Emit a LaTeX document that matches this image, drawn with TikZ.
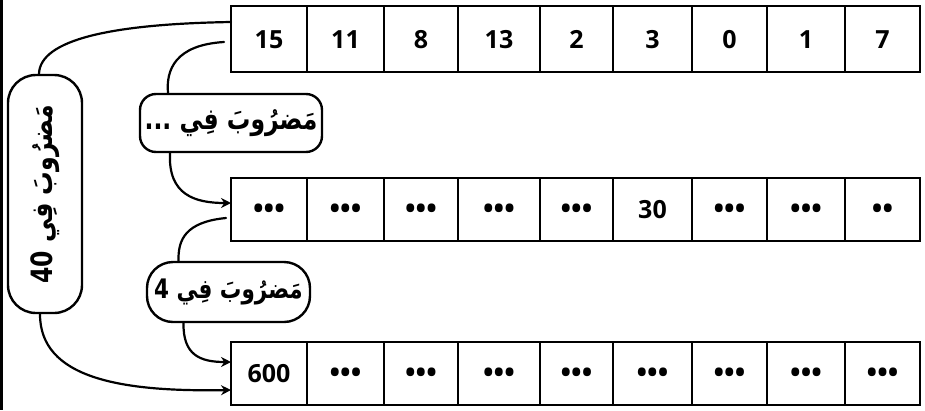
\documentclass[tikz,border=0pt]{standalone}
\usepackage{fontspec}
\usepackage{graphicx}
\usetikzlibrary{arrows.meta,calc}
\TeXXeTstate=1
\newfontfamily\arabicfont[Script=Arabic]{DejaVu Sans}
\newfontfamily\numfont{Open Sans}
\newcommand{\mydots}{{\fontsize{28}{28}\selectfont •••}}
\newcommand{\mytwodots}{{\fontsize{28}{28}\selectfont ••}}
\newcommand{\tallar}[1]{\scalebox{1}[1.25]{\beginR #1\endR}}
\begin{document}
\begin{tikzpicture}[x=1pt,y=-1pt,
  cell/.style={draw, line width=2.4pt, inner sep=0pt, outer sep=0pt, text height=18pt, text depth=0pt, font=\numfont\bfseries\fontsize{25}{28}\selectfont},
  pill/.style={draw, line width=2.4pt, rounded corners=20pt, inner sep=0pt, font=\arabicfont\bfseries\fontsize{23.5}{26}\selectfont},
  conn/.style={line width=2.2pt, line cap=round},
  tip/.style={-{Stealth[length=10pt,width=10pt]}}]
\fill[white] (0,0) rectangle (925,410);
\useasboundingbox (0,0) rectangle (925,410);
\draw[line width=2.5pt] (1.5,0) -- (1.5,410);
% rows
\foreach \a/\b/\t [count=\i] in {231/307/15,307/384/11,384/458/8,458/540/13,540/613/2,613/692/3,692/767/0,767/845/1,845/920/7}{
  \pgfmathsetmacro{\w}{\b-\a}
  \node[cell, minimum width=\w pt, minimum height=66pt] (r1c\i) at ({(\a+\b)/2},39) {\t};
}
\foreach \a/\b/\t [count=\i] in {231/307/\mydots,307/384/\mydots,384/458/\mydots,458/540/\mydots,540/613/\mydots,613/692/30,692/767/\mydots,767/845/\mydots,845/920/\mytwodots}{
  \pgfmathsetmacro{\w}{\b-\a}
  \node[cell, minimum width=\w pt, minimum height=63pt] (r2c\i) at ({(\a+\b)/2},209.5) {\t};
}
\foreach \a/\b/\t [count=\i] in {231/307/600,307/384/\mydots,384/458/\mydots,458/540/\mydots,540/613/\mydots,613/692/\mydots,692/767/\mydots,767/845/\mydots,845/920/\mydots}{
  \pgfmathsetmacro{\w}{\b-\a}
  \node[cell, minimum width=\w pt, minimum height=63pt] (r3c\i) at ({(\a+\b)/2},373.5) {\t};
}
% pills
\node[pill, rounded corners=16pt, minimum width=182pt, minimum height=58pt] (p1) at (231,123) {\tallar{مَضرُوبَ فِي ...}};
\node[pill, rounded corners=26pt, minimum width=163pt, minimum height=60pt, font=\arabicfont\bfseries\fontsize{21.5}{24}\selectfont] (p2) at (228.5,292) {\tallar{مَضرُوبَ فِي 4}};
\node[pill, rounded corners=28pt, minimum width=74pt, minimum height=238pt] (L) at (45,194) {\rotatebox{90}{\tallar{مَضرُوبَ فِي \beginL 40\endL{}}}};
% connectors
\draw[conn] ([xshift=-6pt]L.north) .. controls (40,40) and (110,24) .. ([yshift=17pt]r1c1.west);
\draw[conn,tip] ([xshift=-5pt]L.south) .. controls (40,378) and (120,392) .. ([yshift=-16.5pt]r3c1.west);
\draw[conn] ([xshift=-7pt,yshift=-3pt]r1c1.west) .. controls (175,45) and (166,70) .. ([xshift=-63pt]p1.north);
\draw[conn,tip] ([xshift=-61pt]p1.south) .. controls (168,195) and (195,203) .. ([yshift=6.5pt]r2c1.west);
\draw[conn] ([xshift=-5pt,yshift=-8.5pt]r2c1.west) .. controls (185,222) and (178,240) .. ([xshift=-50pt]p2.north);
\draw[conn,tip] ([xshift=-45pt]p2.south) .. controls (183,355) and (200,362) .. ([yshift=11.5pt]r3c1.west);
\end{tikzpicture}
\end{document}
